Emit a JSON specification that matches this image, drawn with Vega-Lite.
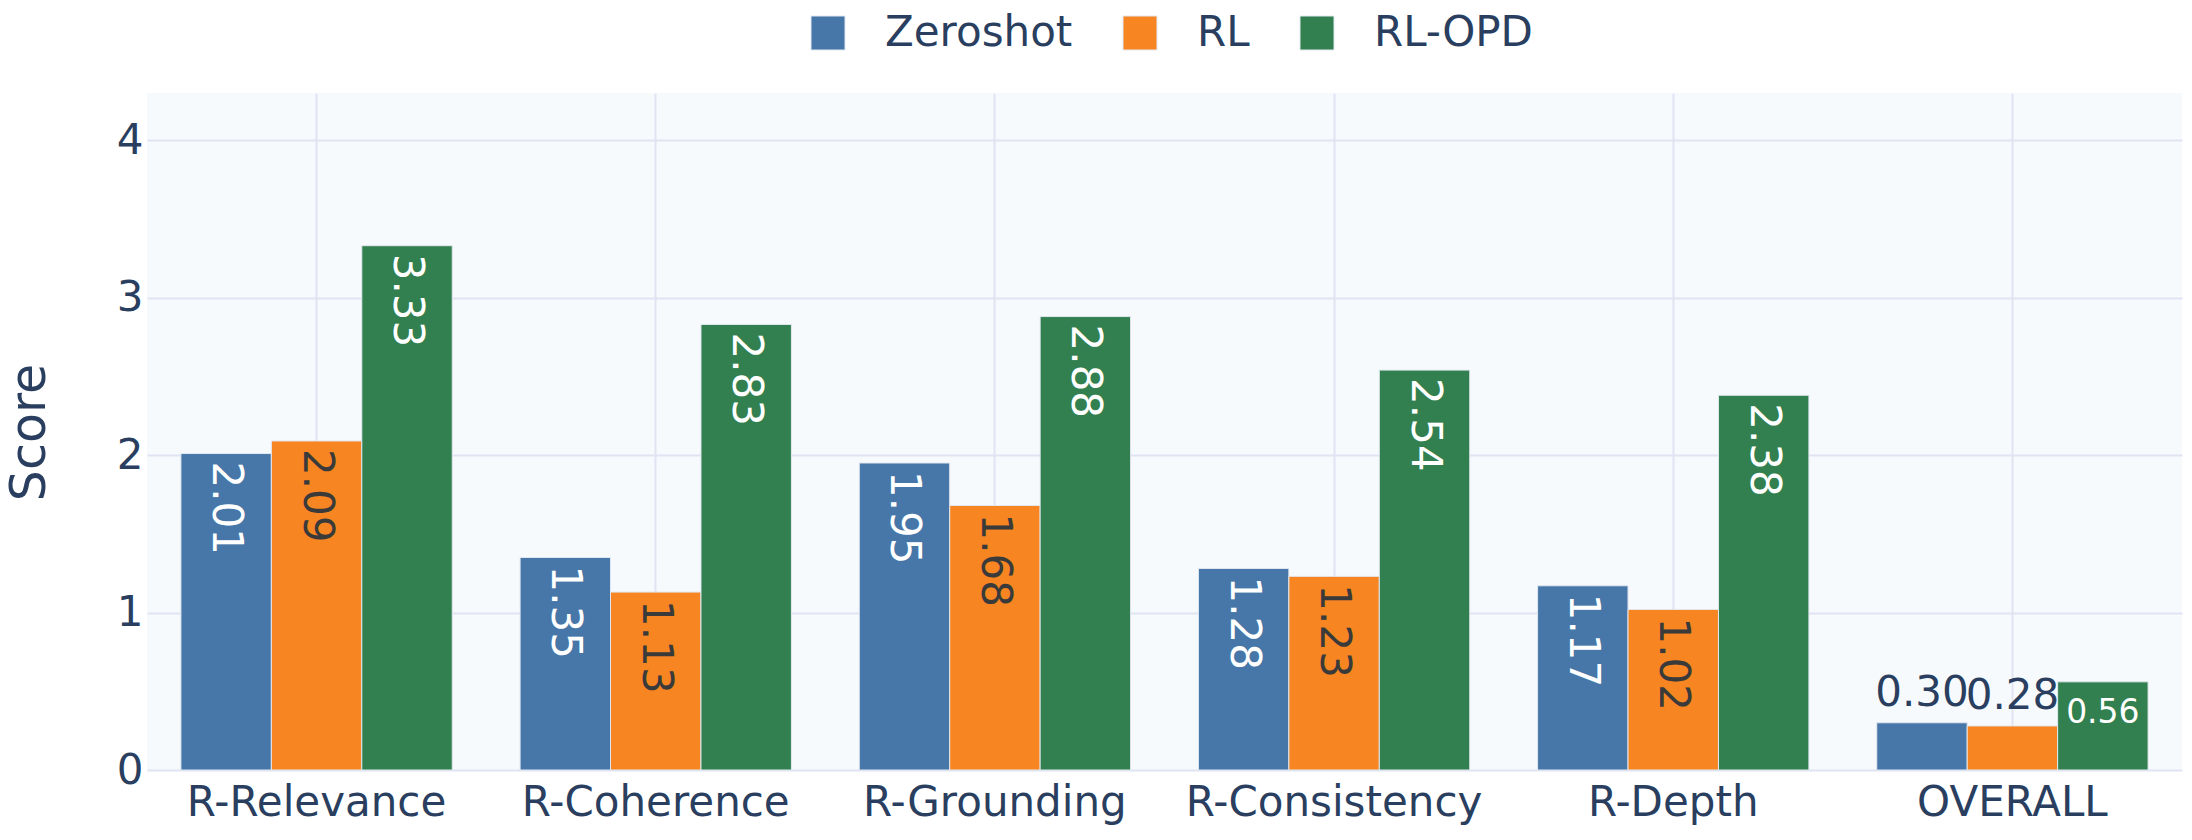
{
  "$schema": "https://vega.github.io/schema/vega-lite/v6.json",
  "width": 2035,
  "height": 677,
  "autosize": {"type": "none"},
  "padding": {"left": 147, "top": 93, "right": 10, "bottom": 70},
  "background": "#ffffff",
  "config": {
    "font": "DejaVu Sans",
    "view": {"fill": "#F7FAFD", "stroke": null},
    "axis": {
      "labelFont": "DejaVu Sans",
      "labelColor": "#2A3F5F",
      "titleColor": "#2A3F5F",
      "titleFont": "DejaVu Sans",
      "titleFontWeight": "normal",
      "gridColor": "#DFE3F2",
      "gridWidth": 2,
      "domain": false,
      "ticks": false,
      "labelLimit": 0
    },
    "legend": {"labelFont": "DejaVu Sans", "labelColor": "#2A3F5F", "labelLimit": 0}
  },
  "data": {
    "values": [
      {"category": "R-Relevance", "model": "Zeroshot", "score": 2.01},
      {"category": "R-Relevance", "model": "RL", "score": 2.09},
      {"category": "R-Relevance", "model": "RL-OPD", "score": 3.33},
      {"category": "R-Coherence", "model": "Zeroshot", "score": 1.35},
      {"category": "R-Coherence", "model": "RL", "score": 1.13},
      {"category": "R-Coherence", "model": "RL-OPD", "score": 2.83},
      {"category": "R-Grounding", "model": "Zeroshot", "score": 1.95},
      {"category": "R-Grounding", "model": "RL", "score": 1.68},
      {"category": "R-Grounding", "model": "RL-OPD", "score": 2.88},
      {"category": "R-Consistency", "model": "Zeroshot", "score": 1.28},
      {"category": "R-Consistency", "model": "RL", "score": 1.23},
      {"category": "R-Consistency", "model": "RL-OPD", "score": 2.54},
      {"category": "R-Depth", "model": "Zeroshot", "score": 1.17},
      {"category": "R-Depth", "model": "RL", "score": 1.02},
      {"category": "R-Depth", "model": "RL-OPD", "score": 2.38},
      {"category": "OVERALL", "model": "Zeroshot", "score": 0.30},
      {"category": "OVERALL", "model": "RL", "score": 0.28},
      {"category": "OVERALL", "model": "RL-OPD", "score": 0.56}
    ]
  },
  "encoding": {
    "x": {
      "field": "category",
      "type": "nominal",
      "scale": {
        "domain": ["R-Relevance", "R-Coherence", "R-Grounding", "R-Consistency", "R-Depth", "OVERALL"],
        "paddingInner": 0.2,
        "paddingOuter": 0.1
      },
      "axis": {
        "title": null,
        "labelAngle": 0,
        "labelFontSize": 42,
        "labelPadding": 12,
        "bandPosition": 0.5,
        "grid": true
      }
    },
    "xOffset": {
      "field": "model",
      "type": "nominal",
      "scale": {"domain": ["Zeroshot", "RL", "RL-OPD"], "paddingInner": 0, "paddingOuter": 0}
    },
    "y": {
      "field": "score",
      "type": "quantitative",
      "scale": {"domain": [0, 4.3], "nice": false},
      "axis": {
        "title": "Score",
        "titleFontSize": 49,
        "titleAngle": -90,
        "titleAlign": "center",
        "titleBaseline": "alphabetic",
        "titleX": -103,
        "titleY": 339,
        "values": [0, 1, 2, 3, 4],
        "labelFontSize": 42,
        "labelPadding": 4,
        "grid": true
      }
    }
  },
  "layer": [
    {
      "mark": {"type": "bar", "stroke": "#E2E8F1", "strokeWidth": 1},
      "encoding": {
        "color": {
          "field": "model",
          "type": "nominal",
          "scale": {"domain": ["Zeroshot", "RL", "RL-OPD"], "range": ["#4677A8", "#F68522", "#32804F"]},
          "legend": {
            "title": null,
            "orient": "none",
            "direction": "horizontal",
            "legendX": 660,
            "legendY": -81,
            "padding": 0,
            "symbolType": "square",
            "symbolSize": 1156,
            "symbolOpacity": 1,
            "symbolStrokeColor": "#E2E8F1",
            "symbolStrokeWidth": 1,
            "labelFontSize": 42,
            "labelOffset": 36,
            "columnPadding": 46
          }
        }
      }
    },
    {
      "transform": [{"filter": "datum.category !== 'OVERALL'"}],
      "mark": {"type": "text", "angle": 90, "align": "left", "baseline": "middle", "dx": 8, "fontSize": 42},
      "encoding": {
        "text": {"field": "score", "type": "quantitative", "format": ".2f"},
        "fill": {
          "field": "model",
          "type": "nominal",
          "scale": {"domain": ["Zeroshot", "RL", "RL-OPD"], "range": ["#FFFFFF", "#3A3A3A", "#FFFFFF"]},
          "legend": null
        }
      }
    },
    {
      "transform": [{"filter": "datum.category === 'OVERALL' && datum.model !== 'RL-OPD'"}],
      "mark": {"type": "text", "align": "center", "baseline": "alphabetic", "dy": -17, "fontSize": 42, "fill": "#2A3F5F"},
      "encoding": {
        "text": {"field": "score", "type": "quantitative", "format": ".2f"}
      }
    },
    {
      "transform": [{"filter": "datum.category === 'OVERALL' && datum.model === 'RL-OPD'"}],
      "mark": {"type": "text", "align": "center", "baseline": "alphabetic", "dy": 41, "fontSize": 33, "fill": "#FFFFFF"},
      "encoding": {
        "text": {"field": "score", "type": "quantitative", "format": ".2f"}
      }
    }
  ]
}
